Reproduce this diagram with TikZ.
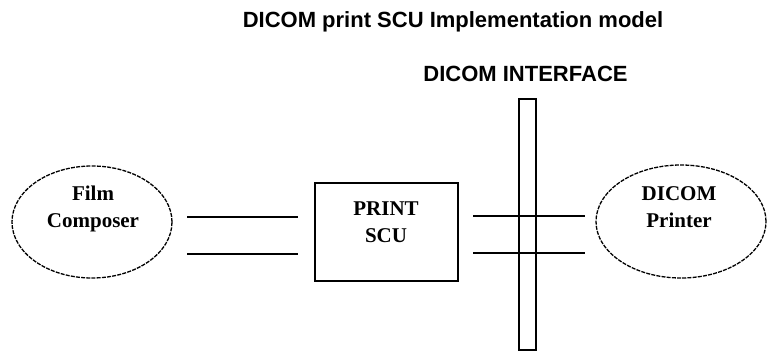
\documentclass[tikz,border=0pt]{standalone}
\usepackage{fontspec}
\setmainfont{Liberation Serif}
\setsansfont{Liberation Sans}
\usetikzlibrary{shapes.geometric}
\begin{document}
\begin{tikzpicture}[x=1pt,y=-1pt,
  ell/.style={draw, ellipse, line width=1.3pt, dash pattern=on 4pt off 1.2pt, inner sep=0pt},
  lbl/.style={font=\bfseries\fontsize{21}{27}\selectfont, align=center, inner sep=0pt},
  ttl/.style={font=\sffamily\bfseries\fontsize{22}{26}\selectfont, anchor=base, inner sep=0pt},
  boxstyle/.style={draw, line width=1.5pt, inner sep=0pt},
  wire/.style={line width=1.4pt}]
\useasboundingbox (0,0) rectangle (767,352);
% title texts
\node[ttl] (title) at (453,28) {DICOM print SCU Implementation model};
\node[ttl] (iface) at (525.5,82) {DICOM INTERFACE};
% film composer
\node[ell, minimum width=160pt, minimum height=112pt] (fc) at (92,222) {};
\node[lbl] (fct) at (93,209) {Film\\Composer};
% print scu
\node[boxstyle, minimum width=143pt, minimum height=98pt] (scu) at (386.5,232) {};
\node[lbl] (scut) at (386,222) {PRINT\\SCU};
% dicom printer
\node[ell, minimum width=170pt, minimum height=113pt] (pr) at (681,221.5) {};
\node[lbl] (prt) at (679,207) {DICOM\\Printer};
% interface bar
\node[boxstyle, line width=1.4pt, minimum width=17pt, minimum height=251pt] (bar) at (527.5,224.5) {};
% wires
\coordinate (a1) at (187,217);
\coordinate (a2) at (298,217);
\coordinate (b1) at (187,254);
\coordinate (b2) at (298,254);
\coordinate (c1) at (473,216);
\coordinate (c2) at (585,216);
\coordinate (d1) at (473,253);
\coordinate (d2) at (585,253);
\draw[wire] (a1) -- (a2);
\draw[wire] (b1) -- (b2);
\draw[wire] (c1) -- (c2);
\draw[wire] (d1) -- (d2);
\end{tikzpicture}
\end{document}
